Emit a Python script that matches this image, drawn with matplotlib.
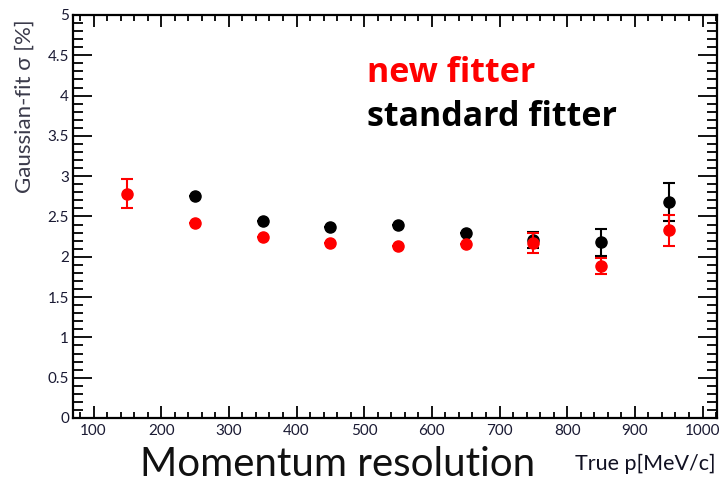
import matplotlib
matplotlib.use("Agg")
import matplotlib.pyplot as plt
from matplotlib.ticker import MultipleLocator

# Data
p_new = [150, 250, 350, 450, 550, 650, 750, 850, 950]
sig_new = [2.78, 2.42, 2.24, 2.17, 2.13, 2.16, 2.17, 1.89, 2.33]
err_new = [0.18, 0.0, 0.0, 0.0, 0.0, 0.0, 0.12, 0.10, 0.19]

p_std = [250, 350, 450, 550, 650, 750, 850, 950]
sig_std = [2.75, 2.44, 2.37, 2.40, 2.30, 2.21, 2.18, 2.68]
err_std = [0.0, 0.0, 0.0, 0.0, 0.0, 0.10, 0.17, 0.23]

y_ticks = [0, 0.5, 1, 1.5, 2, 2.5, 3, 3.5, 4, 4.5, 5]
y_labels = ['0', '0.5', '1', '1.5', '2', '2.5', '3', '3.5', '4', '4.5', '5']
x_ticks = [100, 200, 300, 400, 500, 600, 700, 800, 900, 1000]

fig = plt.figure(figsize=(7.22, 4.82), dpi=100)
ax = fig.add_axes([0.1015, 0.1328, 0.8912, 0.8361])

ax.errorbar(p_std, sig_std, yerr=err_std, fmt='o', color='black', ms=8,
            elinewidth=1.5, capsize=4, capthick=1.5, zorder=3)
ax.errorbar(p_new, sig_new, yerr=err_new, fmt='o', color='#ff0000', ms=8,
            elinewidth=1.5, capsize=4, capthick=1.5, zorder=4)

ax.set_xlim(70, 1021)
ax.set_ylim(0, 5)
ax.set_xticks(x_ticks)
ax.set_yticks(y_ticks)
ax.set_yticklabels(y_labels)
ax.xaxis.set_minor_locator(MultipleLocator(20))
ax.yaxis.set_minor_locator(MultipleLocator(0.1))

tick_color = '#1a1a33'
ax.tick_params(axis='x', which='major', direction='in', top=True, bottom=True,
               length=8.5, width=1.3, pad=4, labelsize=11, labelcolor=tick_color)
ax.tick_params(axis='x', which='minor', direction='in', top=True, bottom=True,
               length=4.5, width=1.3)
ax.tick_params(axis='y', which='major', direction='in', left=True, right=True,
               length=14, width=1.3, pad=3, labelsize=11, labelcolor=tick_color)
ax.tick_params(axis='y', which='minor', direction='in', left=True, right=True,
               length=7, width=1.3)
for lab in ax.get_xticklabels() + ax.get_yticklabels():
    lab.set_family('Lato')
for s in ax.spines.values():
    s.set_linewidth(1.6)

ax.set_ylabel('Gaussian-fit σ [%]', fontsize=16, color='#3a3a4a',
              family=['Lato', 'DejaVu Sans'])
ax.yaxis.set_label_coords(-0.075, 0.988)
ax.yaxis.label.set_horizontalalignment('right')
ax.yaxis.label.set_verticalalignment('center')

fig.text(0.991, 0.025, 'True p[MeV/c]', fontsize=15.5, ha='right', va='baseline',
         color='#111122', family='Lato')
fig.text(0.194, 0.012, 'Momentum resolution', fontsize=29, ha='left', va='baseline',
         color='#111111', family='Lato')

fig.text(0.509, 0.830, 'new fitter', fontsize=24.5, fontweight='bold',
         color='#ff0000', family='Open Sans', ha='left', va='baseline')
fig.text(0.509, 0.739, 'standard fitter', fontsize=24.5, fontweight='bold',
         color='black', family='Open Sans', ha='left', va='baseline')

fig.savefig('out.png', dpi=100)
